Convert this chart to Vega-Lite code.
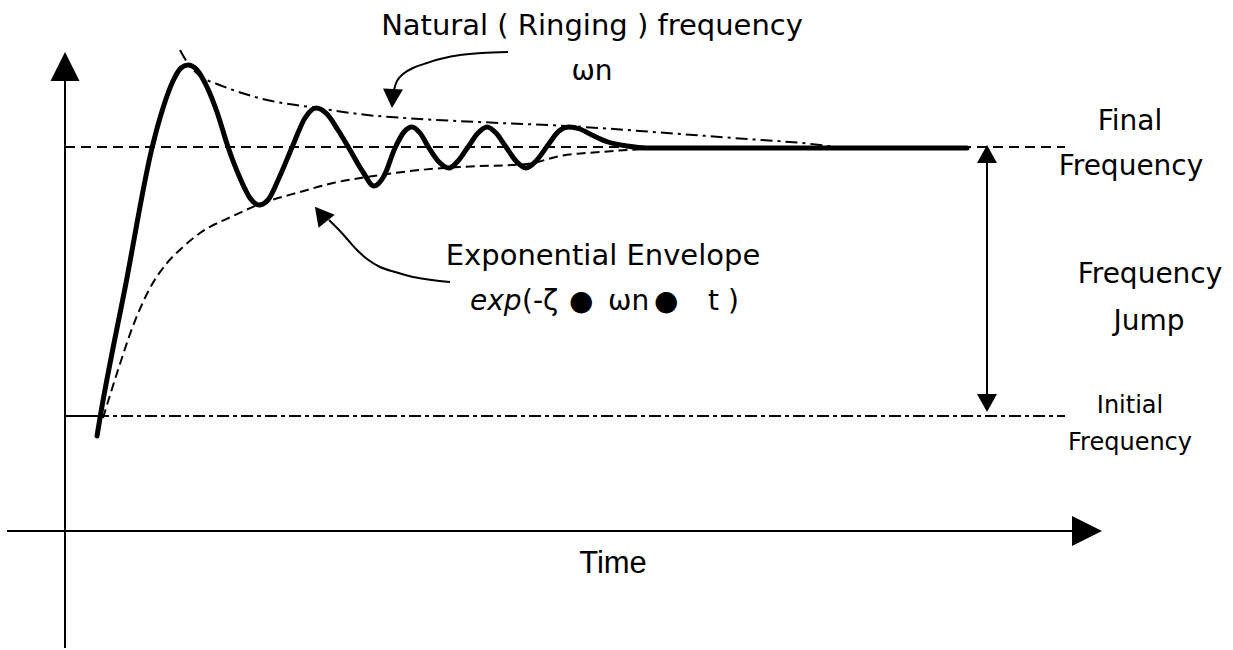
{
  "$schema": "https://vega.github.io/schema/vega-lite/v6.json",
  "width": 1233,
  "height": 650,
  "autosize": {"type": "fit", "contains": "padding"},
  "padding": 0,
  "background": "white",
  "config": {"view": {"stroke": null}},
  "datasets": {
    "curve": [
      {"x":97,"y":436},{"x":100,"y":418},{"x":126,"y":283},{"x":152,"y":148},{"x":163,"y":108},{"x":173,"y":81},{"x":181,"y":68},{"x":188,"y":65},{"x":197,"y":70},{"x":207,"y":87},{"x":217,"y":112},{"x":228,"y":147},{"x":240,"y":178},{"x":250,"y":198},{"x":259,"y":205},{"x":268,"y":200},{"x":279,"y":178},{"x":293,"y":145},{"x":305,"y":118},{"x":316,"y":108},{"x":327,"y":114},{"x":338,"y":130},{"x":350,"y":150},{"x":363,"y":172},{"x":374,"y":186},{"x":384,"y":176},{"x":395,"y":148},{"x":404,"y":132},{"x":412,"y":127},{"x":420,"y":133},{"x":429,"y":148},{"x":439,"y":162},{"x":449,"y":168},{"x":458,"y":161},{"x":468,"y":147},{"x":478,"y":133},{"x":487,"y":127},{"x":496,"y":133},{"x":506,"y":147},{"x":516,"y":161},{"x":526,"y":168},{"x":536,"y":161},{"x":548,"y":145},{"x":559,"y":131},{"x":569,"y":127},{"x":580,"y":129},{"x":592,"y":135},{"x":608,"y":142},{"x":627,"y":146},{"x":647,"y":148},{"x":700,"y":148},{"x":800,"y":148},{"x":967,"y":148}
    ],
    "upper": [
      {"x":180,"y":50},{"x":187,"y":62},{"x":200,"y":76},{"x":217,"y":84},{"x":233,"y":90},{"x":267,"y":100},{"x":317,"y":108},{"x":367,"y":115},{"x":420,"y":119},{"x":500,"y":123},{"x":567,"y":126},{"x":667,"y":133},{"x":733,"y":138},{"x":820,"y":145},{"x":835,"y":147}
    ],
    "lower": [
      {"x":103,"y":418},{"x":118,"y":370},{"x":133,"y":326},{"x":150,"y":288},{"x":167,"y":263},{"x":183,"y":247},{"x":200,"y":233},{"x":233,"y":216},{"x":260,"y":204},{"x":300,"y":192},{"x":333,"y":183},{"x":367,"y":177},{"x":420,"y":170},{"x":460,"y":167},{"x":527,"y":164},{"x":560,"y":156},{"x":600,"y":152},{"x":645,"y":149},{"x":665,"y":148}
    ],
    "arrows": [
      {"a":"natural","i":0,"x":508,"y":52},{"a":"natural","i":1,"x":482,"y":53},{"a":"natural","i":2,"x":460,"y":55},{"a":"natural","i":3,"x":440,"y":59},{"a":"natural","i":4,"x":427,"y":63},{"a":"natural","i":5,"x":413,"y":68},{"a":"natural","i":6,"x":403,"y":74},{"a":"natural","i":7,"x":397,"y":81},{"a":"natural","i":8,"x":394,"y":90},
      {"a":"envelope","i":0,"x":450,"y":282},{"a":"envelope","i":1,"x":432,"y":280},{"a":"envelope","i":2,"x":413,"y":277},{"a":"envelope","i":3,"x":395,"y":272},{"a":"envelope","i":4,"x":380,"y":267},{"a":"envelope","i":5,"x":367,"y":259},{"a":"envelope","i":6,"x":357,"y":250},{"a":"envelope","i":7,"x":348,"y":240},{"a":"envelope","i":8,"x":340,"y":231},{"a":"envelope","i":9,"x":329,"y":220}
    ],
    "solid_rules": [
      {"x":65,"y":80,"x2":65,"y2":648},
      {"x":7,"y":531,"x2":1074,"y2":531},
      {"x":987,"y":160,"x2":987,"y2":396},
      {"x":65,"y":416,"x2":97,"y2":416}
    ],
    "final_line": [{"x":65,"y":147,"x2":1065,"y2":147}],
    "initial_line": [{"x":97,"y":416,"x2":1065,"y2":416}],
    "head_up_big": [{"x":65,"y":66.5}],
    "head_right_big": [{"x":1087,"y":531}],
    "head_up_small": [{"x":987,"y":154}],
    "head_down_small": [{"x":987,"y":403}],
    "head_natural": [{"x":392.5,"y":98.5}],
    "head_envelope": [{"x":320.75,"y":214}],
    "title_labels": [
      {"x":592,"y":35,"label":"Natural ( Ringing ) frequency"},
      {"x":603,"y":265,"label":"Exponential Envelope"}
    ],
    "labels": [
      {"x":592,"y":80,"label":"ωn"},
      {"x":1130,"y":130,"label":"Final"},
      {"x":1131,"y":175,"label":"Frequency"},
      {"x":1150,"y":283,"label":"Frequency"},
      {"x":1149,"y":330,"label":"Jump"}
    ],
    "small_labels": [
      {"x":1130,"y":413,"label":"Initial"},
      {"x":1130,"y":450,"label":"Frequency"}
    ],
    "formula": [
      {"x":522,"y":310,"label":"(-ζ"},
      {"x":569,"y":310,"label":"●"},
      {"x":608,"y":310,"label":"ωn"},
      {"x":654,"y":310,"label":"●"},
      {"x":708,"y":310,"label":"t )"}
    ],
    "formula_italic": [{"x":470,"y":310,"label":"exp"}],
    "time_label": [{"x":613,"y":573,"label":"Time"}]
  },
  "encoding": {
    "x": {"field": "x", "type": "quantitative", "scale": {"domain": [0, 1233], "nice": false, "zero": false}, "axis": null},
    "y": {"field": "y", "type": "quantitative", "scale": {"domain": [0, 650], "nice": false, "zero": false, "reverse": true}, "axis": null}
  },
  "layer": [
    {"data": {"name": "final_line"}, "mark": {"type": "rule", "color": "black", "strokeWidth": 2, "strokeDash": [10, 6]},
     "encoding": {"x2": {"field": "x2"}, "y2": {"field": "y2"}}},
    {"data": {"name": "initial_line"}, "mark": {"type": "rule", "color": "black", "strokeWidth": 2, "strokeDash": [12, 4, 4, 4]},
     "encoding": {"x2": {"field": "x2"}, "y2": {"field": "y2"}}},
    {"data": {"name": "solid_rules"}, "mark": {"type": "rule", "color": "black", "strokeWidth": 2},
     "encoding": {"x2": {"field": "x2"}, "y2": {"field": "y2"}}},
    {"data": {"name": "upper"}, "mark": {"type": "line", "color": "black", "strokeWidth": 2, "strokeDash": [12, 5, 3, 5], "interpolate": "monotone"}, "encoding": {}},
    {"data": {"name": "lower"}, "mark": {"type": "line", "color": "black", "strokeWidth": 2, "strokeDash": [9, 5], "interpolate": "monotone"}, "encoding": {}},
    {"data": {"name": "curve"}, "mark": {"type": "line", "color": "black", "strokeWidth": 5, "strokeCap": "round", "strokeJoin": "round", "interpolate": "monotone"}, "encoding": {}},
    {"data": {"name": "arrows"}, "mark": {"type": "line", "color": "black", "strokeWidth": 2, "interpolate": "cardinal"},
     "encoding": {"detail": {"field": "a"}, "order": {"field": "i", "type": "quantitative"}}},
    {"data": {"name": "head_up_big"}, "mark": {"type": "point", "shape": "M0,-1L1,1L-1,1Z", "size": 841, "filled": true, "color": "black", "opacity": 1}},
    {"data": {"name": "head_right_big"}, "mark": {"type": "point", "shape": "M1,0L-1,-1L-1,1Z", "size": 900, "filled": true, "color": "black", "opacity": 1}},
    {"data": {"name": "head_up_small"}, "mark": {"type": "point", "shape": "M0,-0.9L1,0.9L-1,0.9Z", "size": 400, "filled": true, "color": "black", "opacity": 1}},
    {"data": {"name": "head_down_small"}, "mark": {"type": "point", "shape": "M0,0.9L1,-0.9L-1,-0.9Z", "size": 400, "filled": true, "color": "black", "opacity": 1}},
    {"data": {"name": "head_natural"}, "mark": {"type": "point", "shape": "M0,0.95L1,-0.95L-1,-0.95Z", "size": 400, "angle": 3, "filled": true, "color": "black", "opacity": 1}},
    {"data": {"name": "head_envelope"}, "mark": {"type": "point", "shape": "M0,-0.9L1,0.9L-1,0.9Z", "size": 433, "angle": -39, "filled": true, "color": "black", "opacity": 1}},
    {"data": {"name": "title_labels"}, "mark": {"type": "text", "font": "DejaVu Sans", "fontSize": 29, "align": "center", "baseline": "alphabetic", "color": "black"},
     "encoding": {"text": {"field": "label"}}},
    {"data": {"name": "labels"}, "mark": {"type": "text", "font": "DejaVu Sans", "fontSize": 28, "align": "center", "baseline": "alphabetic", "color": "black"},
     "encoding": {"text": {"field": "label"}}},
    {"data": {"name": "small_labels"}, "mark": {"type": "text", "font": "DejaVu Sans", "fontSize": 24, "align": "center", "baseline": "alphabetic", "color": "black"},
     "encoding": {"text": {"field": "label"}}},
    {"data": {"name": "formula"}, "mark": {"type": "text", "font": "DejaVu Sans", "fontSize": 28, "align": "left", "baseline": "alphabetic", "color": "black"},
     "encoding": {"text": {"field": "label"}}},
    {"data": {"name": "formula_italic"}, "mark": {"type": "text", "font": "DejaVu Sans", "fontSize": 28, "fontStyle": "italic", "align": "left", "baseline": "alphabetic", "color": "black"},
     "encoding": {"text": {"field": "label"}}},
    {"data": {"name": "time_label"}, "mark": {"type": "text", "font": "Liberation Sans", "fontSize": 31, "align": "center", "baseline": "alphabetic", "color": "black"},
     "encoding": {"text": {"field": "label"}}}
  ]
}
